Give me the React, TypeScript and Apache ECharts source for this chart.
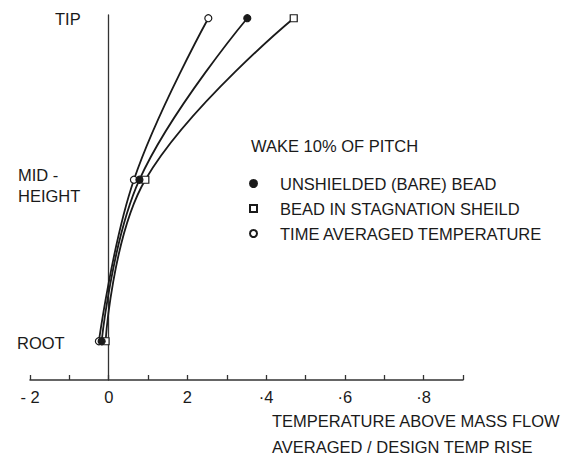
import React, { useEffect, useRef } from "react";
import * as echarts from "echarts";

// Height positions (ROOT = 0, MID-HEIGHT = 0.5, TIP = 1)
const heightPos = [0, 0.5, 1];
const heightLabels = ["ROOT", "MID -\nHEIGHT", "TIP"];
// Temperature above mass flow averaged / design temp rise (axis units as printed)
const unshielded = [-0.18, 0.78, 3.52];
const stagnation = [-0.08, 0.93, 4.7];
const timeAveraged = [-0.25, 0.64, 2.53];
const seriesNames = [
  "UNSHIELDED (BARE) BEAD",
  "BEAD IN STAGNATION SHEILD",
  "TIME AVERAGED TEMPERATURE",
];
const xTickLabels: Record<number, string> = { "-2": "- 2", 0: "0", 2: "2", 4: "·4", 6: "·6", 8: "·8" };
const legendTitle = "WAKE 10% OF PITCH";
const xAxisTitle = "TEMPERATURE ABOVE MASS FLOW\nAVERAGED / DESIGN TEMP RISE";

const FONT = "'Liberation Sans', Arial, sans-serif";
const FS = 16.5;
const INK = "#1a1a1a";

export default function App() {
  const ref = useRef<HTMLDivElement>(null);
  useEffect(() => {
    if (!ref.current) return;
    const chart = echarts.init(ref.current, undefined, { renderer: "svg" });
    const mk = (vals: number[]) => vals.map((v, i) => [v, heightPos[i]]);
    const symbols = ["circle", "rect", "circle"];
    const fills = [INK, "#fff", "#fff"];
    const dataSets = [unshielded, stagnation, timeAveraged];
    chart.setOption({
      animation: false,
      backgroundColor: "#fff",
      title: {
        text: legendTitle,
        left: 251,
        top: 137,
        textStyle: { fontFamily: FONT, fontSize: FS, fontWeight: "normal", color: INK },
        padding: 0,
      },
      legend: {
        orient: "vertical",
        left: 249,
        top: 175,
        itemGap: 8,
        itemWidth: 7,
        itemHeight: 7,
        padding: 0,
        textStyle: { fontFamily: FONT, fontSize: FS, color: INK, padding: [0, 0, 0, 18] },
        data: seriesNames.map((n, i) => ({ name: n, icon: symbols[i] })),
      },
      grid: { left: 30, right: 102, top: 15, bottom: 77, containLabel: false },
      xAxis: {
        type: "value",
        min: -2,
        max: 9,
        interval: 1,
        axisLine: { onZero: false, lineStyle: { color: "#333", width: 1.5 } },
        axisTick: { inside: true, length: 5, lineStyle: { color: "#333", width: 1.3 } },
        splitLine: { show: false },
        axisLabel: {
          margin: 8,
          fontFamily: FONT,
          fontSize: FS,
          color: INK,
          formatter: (v: number) => xTickLabels[v] ?? "",
        },
      },
      yAxis: {
        type: "value",
        min: -0.12,
        max: 1.01,
        axisLine: { show: true, onZero: true, lineStyle: { color: "#333", width: 1.3 } },
        axisTick: { show: false },
        axisLabel: { show: false },
        splitLine: { show: false },
      },
      graphic: [
        { type: "text", left: 55, top: 10, style: { text: heightLabels[2], font: `${FS}px ${FONT}`, fill: INK } },
        { type: "text", left: 18, top: 164, style: { text: heightLabels[1], font: `${FS}px ${FONT}`, fill: INK, lineHeight: 21 } },
        { type: "text", left: 17, top: 334, style: { text: heightLabels[0], font: `${FS}px ${FONT}`, fill: INK } },
        { type: "text", left: 272, top: 408, style: { text: xAxisTitle, font: `${FS}px ${FONT}`, fill: INK, lineHeight: 26 } },
      ],
      series: dataSets.map((d, i) => ({
        name: seriesNames[i],
        type: "line",
        smooth: 0.4,
        data: mk(d),
        symbol: symbols[i],
        symbolSize: 7,
        lineStyle: { color: INK, width: 1.8 },
        itemStyle: { color: fills[i], borderColor: INK, borderWidth: 1.2 },
        z: 3 - i,
      })),
    });
    return () => chart.dispose();
  }, []);
  return <div ref={ref} style={{ position: "absolute", left: 0, top: 0, width: 565, height: 457 }} />;
}
